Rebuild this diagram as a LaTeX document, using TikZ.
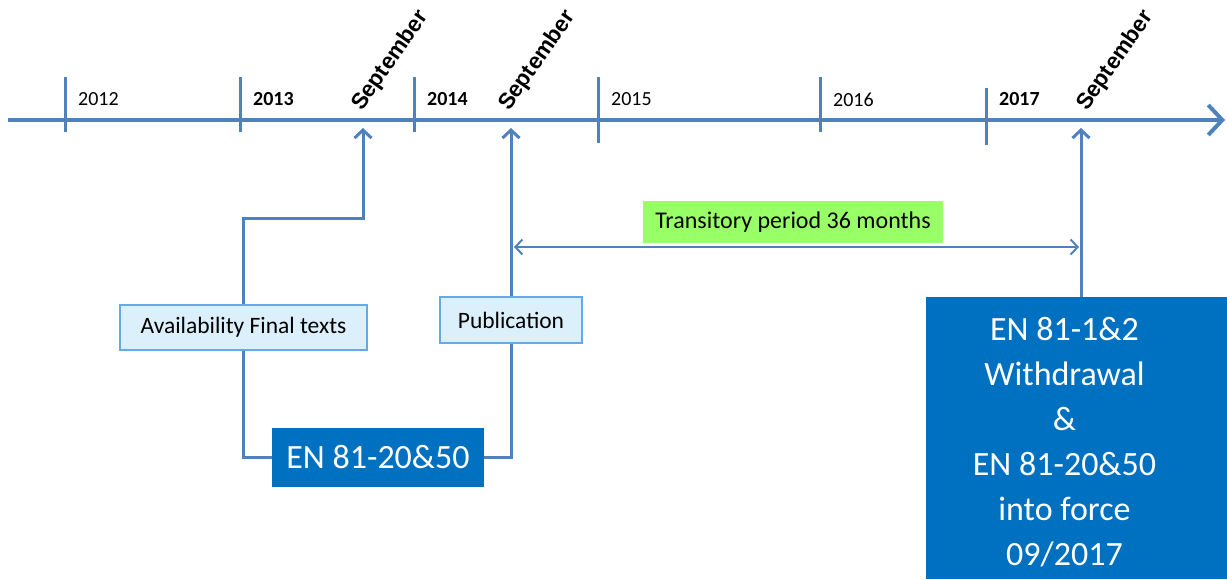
\documentclass[tikz,border=0pt]{standalone}
\usepackage{fontspec}
\setmainfont{Carlito}
\newfontfamily\septfont{Liberation Sans}
\usetikzlibrary{arrows.meta,positioning}

\definecolor{axisblue}{RGB}{79,129,189}
\definecolor{darkbox}{RGB}{0,112,192}
\definecolor{lightfill}{RGB}{220,240,252}
\definecolor{lightdraw}{RGB}{100,170,230}
\definecolor{greenfill}{RGB}{153,255,102}

\begin{document}
\begin{tikzpicture}[x=1pt,y=-1pt,
axisline/.style={axisblue, line width=4pt, -{Straight Barb[length=14pt,width=30pt]}},
tickline/.style={axisblue, line width=3pt},
uparrow/.style={axisblue, line width=3pt, -{Straight Barb[length=8pt,width=17pt]}},
link/.style={axisblue, line width=3pt},
span/.style={axisblue, line width=2pt, {Straight Barb[length=7pt,width=15pt]}-{Straight Barb[length=7pt,width=15pt]}},
yearlabel/.style={anchor=west, inner sep=0pt, font=\fontsize{20}{24}\selectfont},
septlabel/.style={anchor=base west, inner sep=0pt, rotate=55, font=\septfont\bfseries\fontsize{22.5}{26}\selectfont},
lightbox/.style={draw=lightdraw, fill=lightfill, line width=1.5pt, font=\fontsize{23.5}{28}\selectfont},
greenbox/.style={fill=greenfill, font=\fontsize{24}{28}\selectfont},
darkbox/.style={fill=darkbox, text=white, align=center, font=\fontsize{34}{45}\selectfont}
]
\useasboundingbox (0,0) rectangle (1227,579);
% Time axis
\draw[axisline] (8,120) -- (1225,120);
%Ticks
\foreach \x/\top/\bot in {65/77/132, 240/77/132, 414/77/132, 598/77/143, 820/77/132, 986/88/145}
  \draw[tickline] (\x,\top) -- (\x,\bot);
%Years
\foreach \x/\yr in {65/2012, 598/2015, 820/2016}
  \node[yearlabel] (y\yr) at (\x+13,99.5) {\yr};
\foreach \x/\yr in {240/2013, 414/2014, 986/2017}
  \node[yearlabel, font=\bfseries\fontsize{20}{24}\selectfont] (y\yr) at (\x+13,99.5) {\yr};
%Months
\node[septlabel] (sept1) at (362,112) {September};
\node[septlabel] (sept2) at (509,112) {September};
\node[septlabel] (sept3) at (1087,112) {September};
\coordinate (sep1) at (363,128);
\coordinate (sep2) at (511,128);
\coordinate (sep3) at (1081,128);
% Events
%Nodes
\node[lightbox, minimum width=247pt, minimum height=45pt] (avail) at (243.5,327.5) {Availability Final texts};
\node[lightbox, minimum width=142pt, minimum height=46pt] (pub) at (511,320) {Publication};
\node[darkbox, minimum width=212pt, minimum height=59pt] (en2050) at (378,457.5) {EN 81-20\&50};
\node[darkbox, minimum width=301pt, minimum height=282pt] (withdraw) at (1076.5,438) {};
\node[darkbox, fill=none, inner sep=0pt] (withdrawtext) at ([xshift=-12pt,yshift=-4pt]withdraw.center)
  {EN 81-1\&2\\Withdrawal\\\&\\EN 81-20\&50\\into force\\09/2017};
\node[greenbox, minimum width=300pt, minimum height=42pt] (trans) at (793,222) {Transitory period 36 months};
%Lines
\coordinate (bend1) at (363,218);
\draw[link] (en2050.west) -| (avail.south);
\draw[uparrow] (avail.north) |- (bend1) -- (sep1);
\draw[link] (en2050.east) -| (pub.south);
\draw[uparrow] (pub.north) -- (sep2);
\draw[uparrow] (withdraw.north -| sep3) -- (sep3);
\coordinate (spanL) at (514,247);
\coordinate (spanR) at (1079,247);
\draw[span] (spanL) -- (spanR);
\end{tikzpicture}
\end{document}
